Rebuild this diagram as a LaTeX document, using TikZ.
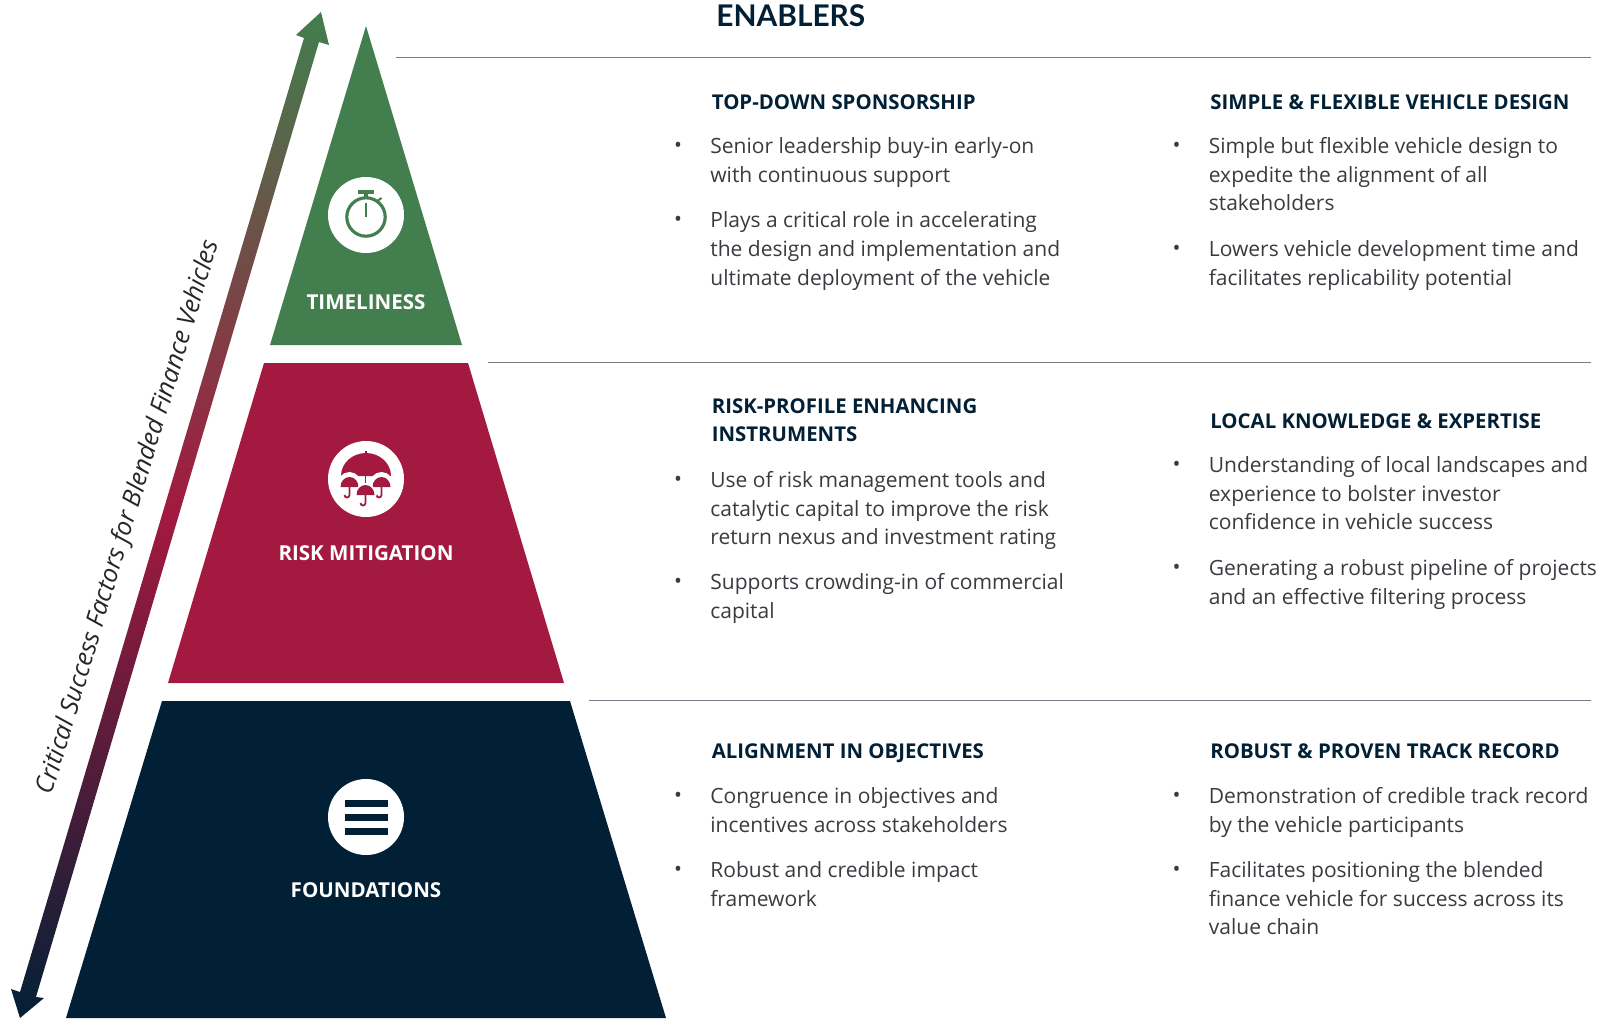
\documentclass[tikz,border=0pt]{standalone}
\usepackage{fontspec}
\setmainfont{Open Sans}
\newfontfamily\titlefont{Lato}
\definecolor{timegreen}{RGB}{66,126,78}
\definecolor{riskred}{RGB}{163,25,64}
\definecolor{basenavy}{RGB}{2,32,53}
\definecolor{bodygrey}{RGB}{58,58,64}
\definecolor{factorgrey}{RGB}{38,38,42}
\definecolor{rulegrey}{RGB}{120,124,134}
\usetikzlibrary{calc}
\tikzset{
    tierlabel/.style = {text = white, font = \fontsize{11.7}{14}\selectfont\bfseries, inner sep = 0},
    iconcircle/.style = {circle, fill = white, minimum size = 76*0.02cm, inner sep = 0},
    headtext/.style = {anchor = north west, inner sep = 0, align = left, text = basenavy, font = \fontsize{11.6}{16.3}\selectfont\bfseries, execute at begin node = \strut},
    itemtext/.style = {anchor = north west, inner sep = 0, align = left, text = bodygrey, font = \fontsize{11.96}{16.35}\selectfont, execute at begin node = \strut},
    itemdot/.style = {text = bodygrey, inner sep = 0, font = \fontsize{12}{16.3}\selectfont},
    rule/.style = {draw = rulegrey, line width = 0.5pt}
}

\begin{document}
\begin{tikzpicture}[x=0.02cm, y=-0.02cm]
    \useasboundingbox (0,0) rectangle (1604,1018);

    %% pyramid
    \fill [timegreen] (366,26) -- (462,345) -- (270,345) -- cycle;
    \fill [riskred] (264,363) -- (468,363) -- (564,683) -- (168,683) -- cycle;
    \fill [basenavy] (162,701) -- (570,701) -- (666,1018) -- (66,1018) -- cycle;

    \node [iconcircle] (timecircle) at (366,215) {};
    \node [iconcircle] (riskcircle) at (366,479) {};
    \node [iconcircle] (basecircle) at (366,817) {};

    \node [tierlabel] (timelabel) at (366,302) {TIMELINESS};
    \node [tierlabel] (risklabel) at (366,553) {RISK MITIGATION};
    \node [tierlabel] (baselabel) at (366,890) {FOUNDATIONS};

    %% stopwatch
    \draw [timegreen, line width = 1.8pt] (366,217) circle (19.2);
    \fill [timegreen] (358,190) rectangle (374,194);
    \fill [timegreen] (364,194) rectangle (367.5,197);
    \fill [timegreen] (364.5,203) rectangle (366.5,217);
    \draw [timegreen, line width = 1.2pt] (376,202) -- (381.5,198);

    %% umbrellas
    \fill [riskred] (341,476) arc (180:360:25 and 23) -- cycle;
    \fill [riskred] (364.5,451) rectangle (366.5,456);
    \foreach \cx/\cy in {349.5/477, 381.5/477}
    {
        \fill [white] (\cx-13,\cy+10) arc (180:360:13 and 15) -- cycle;
    }
    \draw [riskred, line width = 1pt] (365.5,470) -- (365.5,490);
    \foreach \cx/\cy in {349.5/477, 381.5/477, 365.5/485}
    {
        \fill [white] (\cx-11,\cy+11) arc (180:360:11 and 13) -- cycle;
        \fill [riskred] (\cx-9,\cy+10) arc (180:360:9 and 10) -- cycle;
        \draw [riskred, line width = 1pt] (\cx,\cy+9) -- (\cx,\cy+18) arc (0:180:2.5);
    }

    %% menu bars
    \foreach \s in {0,1,2}
    {
        \fill [basenavy] (345,{800+\s*14}) rectangle (388,{807+\s*14});
    }

    %%%%%%%%%%%%%%%%%%%%%%%%%%%%%%%%

    %% success factors arrow
    \shade [top color = timegreen, bottom color = basenavy, middle color = riskred]
        (321,12) -- (329,45) -- (319,42) -- (36,997) -- (44,998) -- (20,1018) -- (11,989) -- (20,992) -- (304,38) -- (296,35) -- cycle;
    \node [rotate = 73.2, font = \fontsize{14.3}{16}\selectfont\itshape, text = factorgrey, inner sep = 0] (factors) at (129,517.5) {Critical Success Factors for Blended Finance Vehicles};

    %%%%%%%%%%%%%%%%%%%%%%%%%%%%%%%%

    \node [anchor = base west, inner sep = 0, text = basenavy, font = \fontsize{17}{20}\selectfont\titlefont\bfseries] (enablers) at (716,26) {ENABLERS};

    \coordinate (ruleAa) at (396,57);
    \coordinate (ruleAb) at (1591,57);
    \coordinate (ruleBa) at (488,362);
    \coordinate (ruleBb) at (1591,362);
    \coordinate (ruleCa) at (589,700.5);
    \coordinate (ruleCb) at (1591,700.5);
    \foreach \r in {A,B,C}
    {
        \draw [rule] (rule\r a) -- (rule\r b);
    }

    %% headings
    \foreach \nm/\x/\y/\txt in {
        headA/711.5/89/TOP-DOWN SPONSORSHIP,
        headB/1210/89/SIMPLE \& FLEXIBLE VEHICLE DESIGN,
        headC/711.5/398/{RISK-PROFILE ENHANCING\\INSTRUMENTS},
        headD/1210/408/LOCAL KNOWLEDGE \& EXPERTISE,
        headE/711.5/738/ALIGNMENT IN OBJECTIVES,
        headF/1210/738/ROBUST \& PROVEN TRACK RECORD}
    {
        \node [headtext] (\nm) at (\x,\y) {\txt};
    }

    %% bullet items
    \foreach \nm/\x/\y/\txt in {
        itemA/710/137/{Senior leadership buy-in early-on\\with continuous support},
        itemB/710/211.5/{Plays a critical role in accelerating\\the design and implementation and\\ultimate deployment of the vehicle},
        itemC/1208.5/137/{Simple but flexible vehicle design to\\expedite the alignment of all\\stakeholders},
        itemD/1208.5/240/{Lowers vehicle development time and\\facilitates replicability potential},
        itemE/710/471/{Use of risk management tools and\\catalytic capital to improve the risk\\return nexus and investment rating},
        itemF/710/573/{Supports crowding-in of commercial\\capital},
        itemG/1208.5/456/{Understanding of local landscapes and\\experience to bolster investor\\confidence in vehicle success},
        itemH/1208.5/559/{Generating a robust pipeline of projects\\and an effective filtering process},
        itemI/710/787/{Congruence in objectives and\\incentives across stakeholders},
        itemJ/710/861/{Robust and credible impact\\framework},
        itemK/1208.5/787/{Demonstration of credible track record\\by the vehicle participants},
        itemL/1208.5/861/{Facilitates positioning the blended\\finance vehicle for success across its\\value chain}}
    {
        \node [itemtext] (\nm) at (\x,\y) {\txt};
        \node [itemdot] (dot\nm) at ($(\nm.north west)+(-32,10)$) {•};
    }

\end{tikzpicture}
\end{document}
